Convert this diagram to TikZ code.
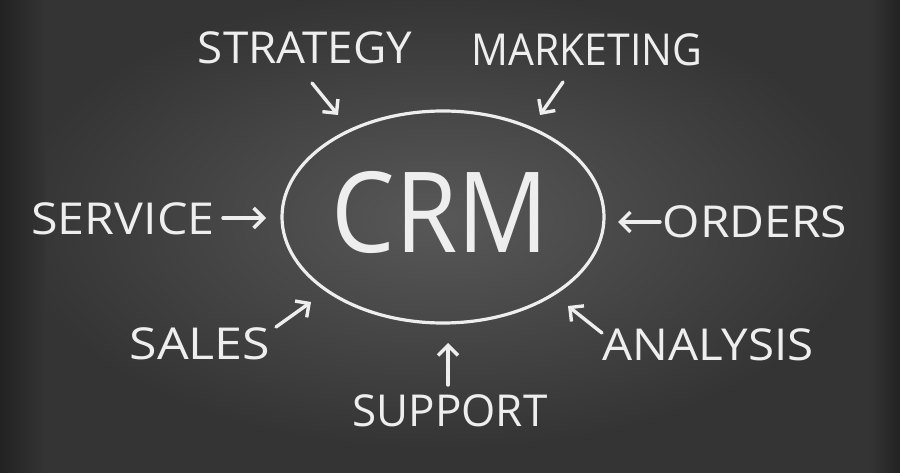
\documentclass[tikz,border=0pt]{standalone}
\usepackage{fontspec}
\setmainfont{Open Sans}
\usetikzlibrary{arrows.meta,shapes.geometric}
\definecolor{board}{RGB}{52,52,52}
\definecolor{boardlight}{RGB}{88,88,88}
\definecolor{boarddark}{RGB}{34,34,34}
\definecolor{chalk}{RGB}{238,238,238}
\tikzset{
  lbl/.style={text=chalk, font=\fontsize{44}{44}\selectfont, inner sep=0pt, anchor=center},
  arr/.style={draw=chalk, line width=3.4pt, line cap=round, -{Straight Barb[length=10pt,width=20pt,line width=3.4pt]}},
  ring/.style={draw=chalk, line width=3.2pt, ellipse, minimum width=322pt, minimum height=212pt, inner sep=0pt}
}
\begin{document}
\begin{tikzpicture}[x=1pt,y=-1pt]
\useasboundingbox (0,0) rectangle (900,473);
\fill[board] (0,0) rectangle (900,473);
\shade[inner color=boardlight, outer color=board] (440,220) ellipse (430 and 230);
\shade[left color=boarddark, right color=board] (0,0) rectangle (45,473);
\shade[left color=board, right color=boarddark] (870,0) rectangle (900,473);

\node[ring] (crm) at (443,217) {};
\node[text=chalk, font=\fontsize{112}{112}\selectfont, inner sep=0pt] (crmtext) at (440,212) {\scalebox{0.9}[1]{CRM}};

\node[lbl] (strategy) at (305,48) {\scalebox{1.04}[1]{STRATEGY}};
\node[lbl] (marketing) at (587,50) {\scalebox{0.93}[1]{MARKETING}};
\node[lbl] (service) at (123,219) {\scalebox{1.1}[1]{SERVICE}};
\node[lbl] (orders) at (755,222) {\scalebox{1.09}[1]{ORDERS}};
\node[lbl] (sales) at (200,344) {\scalebox{1.14}[1]{SALES}};
\node[lbl] (analysis) at (708,345) {\scalebox{1.08}[1]{ANALYSIS}};
\node[lbl] (support) at (450,411) {SUPPORT};

\coordinate (s1) at (312,83);  \coordinate (s2) at (338,115);
\coordinate (m1) at (563,82);  \coordinate (m2) at (540,115);
\coordinate (v1) at (223,218); \coordinate (v2) at (266,218);
\coordinate (o1) at (660,222); \coordinate (o2) at (618,222);
\coordinate (a1) at (276,327); \coordinate (a2) at (311,302);
\coordinate (n1) at (602,333); \coordinate (n2) at (568,306);
\coordinate (p1) at (448,385); \coordinate (p2) at (448,343);

\draw[arr] (s1) -- (s2);
\draw[arr] (m1) -- (m2);
\draw[arr] (v1) -- (v2);
\draw[arr] (o1) -- (o2);
\draw[arr] (a1) -- (a2);
\draw[arr] (n1) -- (n2);
\draw[arr] (p1) -- (p2);
\end{tikzpicture}
\end{document}
